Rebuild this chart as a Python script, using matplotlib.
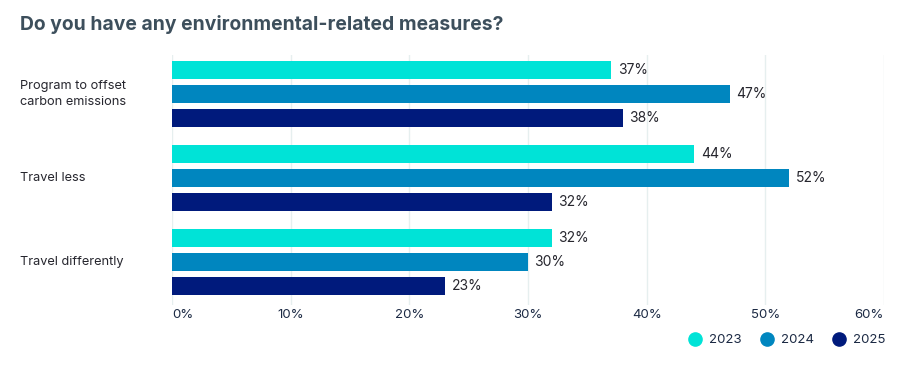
import matplotlib.pyplot as plt
from matplotlib.lines import Line2D
import numpy as np

plt.rcParams['font.family'] = ['Inter', 'DejaVu Sans']

# data
categories = ["Program to offset\ncarbon emissions", "Travel less", "Travel differently"]
years = ["2023", "2024", "2025"]
v2023 = [37, 44, 32]
v2024 = [47, 52, 30]
v2025 = [38, 32, 23]
colors = ["#00E3D7", "#0086BF", "#001A7C"]

fig = plt.figure(figsize=(9, 3.74), dpi=100)
ax = fig.add_axes([172/900, 1 - 305/374, (884 - 172)/900, 250/374])

series = [v2023, v2024, v2025]
group_centers = np.array([94, 178, 262]) / 24.0
for i, (vals, c) in enumerate(zip(series, colors)):
    ys = group_centers + (i - 1)
    ax.barh(ys, vals, height=0.75, color=c, zorder=3)
    for y, v in zip(ys, vals):
        ax.text(v + 0.55, y, f"{v}%", va="center", ha="left", fontsize=10,
                color="#26262e")

ax.set_xlim(0, 60)
ax.set_ylim(305/24, 55/24)
ticks = list(range(0, 61, 10))
ax.set_xticks(ticks)
ax.set_xticklabels([f"{t}%" for t in ticks], fontsize=9.5, color="#1c2a44")
ax.tick_params(axis="x", length=0, pad=3)
labs = ax.get_xticklabels()
labs[0].set_ha("left")
labs[-1].set_ha("right")
ax.set_yticks([])
ax.grid(axis="x", color="#E6EFEF", linewidth=1, zorder=0)
for s in ax.spines.values():
    s.set_visible(False)

# category labels at the left
for y, lab in zip(group_centers, categories):
    ax.text(-152/712*60, y, lab, ha="left", va="center", fontsize=9.2,
            color="#26262e", linespacing=1.35)

fig.text(20/900, 1 - 25/374, "Do you have any environmental-related measures?",
         fontsize=13.9, fontweight="bold", color="#3D4F5C", va="center", ha="left")

handles = [Line2D([], [], marker="o", linestyle="", markersize=9.5, color=c) for c in colors]
fig.legend(handles, years, loc="center right", bbox_to_anchor=(885/900, 1 - 340/374),
           ncol=3, frameon=False, fontsize=9.5, handlelength=1.0, handletextpad=0.55,
           columnspacing=1.4, labelcolor="#1c2a44", borderpad=0, borderaxespad=0)

plt.savefig("out.png", dpi=100)
